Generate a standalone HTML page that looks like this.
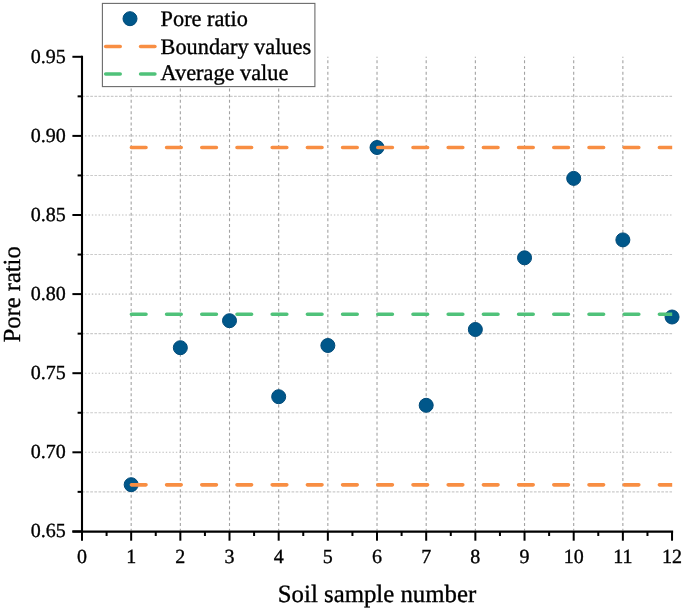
<!DOCTYPE html><html><head><meta charset="utf-8"><style>html,body{margin:0;padding:0;background:#fff;}svg{display:block;will-change:transform;}text{font-family:"Liberation Serif",serif;fill:#000;text-rendering:geometricPrecision;stroke:#000;stroke-width:0.35px;}</style></head><body>
<svg width="685" height="612" viewBox="0 0 685 612">
<rect width="685" height="612" fill="#fff"/>
<defs><clipPath id="pc"><rect x="82" y="40" width="590.2" height="500"/></clipPath></defs>
<line x1="131.17" y1="56.80" x2="131.17" y2="530.40" stroke="#a2a2a2" stroke-width="1.1" stroke-dasharray="3 2.643" stroke-dashoffset="2.093"/>
<line x1="180.34" y1="56.80" x2="180.34" y2="530.40" stroke="#a2a2a2" stroke-width="1.1" stroke-dasharray="3 2.643" stroke-dashoffset="2.093"/>
<line x1="229.51" y1="56.80" x2="229.51" y2="530.40" stroke="#a2a2a2" stroke-width="1.1" stroke-dasharray="3 2.643" stroke-dashoffset="2.093"/>
<line x1="278.68" y1="56.80" x2="278.68" y2="530.40" stroke="#a2a2a2" stroke-width="1.1" stroke-dasharray="3 2.643" stroke-dashoffset="2.093"/>
<line x1="327.85" y1="56.80" x2="327.85" y2="530.40" stroke="#a2a2a2" stroke-width="1.1" stroke-dasharray="3 2.643" stroke-dashoffset="2.093"/>
<line x1="377.02" y1="56.80" x2="377.02" y2="530.40" stroke="#a2a2a2" stroke-width="1.1" stroke-dasharray="3 2.643" stroke-dashoffset="2.093"/>
<line x1="426.19" y1="56.80" x2="426.19" y2="530.40" stroke="#a2a2a2" stroke-width="1.1" stroke-dasharray="3 2.643" stroke-dashoffset="2.093"/>
<line x1="475.36" y1="56.80" x2="475.36" y2="530.40" stroke="#a2a2a2" stroke-width="1.1" stroke-dasharray="3 2.643" stroke-dashoffset="2.093"/>
<line x1="524.53" y1="56.80" x2="524.53" y2="530.40" stroke="#a2a2a2" stroke-width="1.1" stroke-dasharray="3 2.643" stroke-dashoffset="2.093"/>
<line x1="573.70" y1="56.80" x2="573.70" y2="530.40" stroke="#a2a2a2" stroke-width="1.1" stroke-dasharray="3 2.643" stroke-dashoffset="2.093"/>
<line x1="622.87" y1="56.80" x2="622.87" y2="530.40" stroke="#a2a2a2" stroke-width="1.1" stroke-dasharray="3 2.643" stroke-dashoffset="2.093"/>
<line x1="83" y1="491.85" x2="672.04" y2="491.85" stroke="#cbcbcb" stroke-width="1.1" stroke-dasharray="2.7 1.408" stroke-dashoffset="0.958"/>
<line x1="84" y1="452.30" x2="672.04" y2="452.30" stroke="#bcbcbc" stroke-width="1.1" stroke-dasharray="1.4 1.962" stroke-dashoffset="2.262"/>
<line x1="83" y1="412.75" x2="672.04" y2="412.75" stroke="#cbcbcb" stroke-width="1.1" stroke-dasharray="2.7 1.408" stroke-dashoffset="0.958"/>
<line x1="84" y1="373.20" x2="672.04" y2="373.20" stroke="#bcbcbc" stroke-width="1.1" stroke-dasharray="1.4 1.962" stroke-dashoffset="2.262"/>
<line x1="83" y1="333.65" x2="672.04" y2="333.65" stroke="#cbcbcb" stroke-width="1.1" stroke-dasharray="2.7 1.408" stroke-dashoffset="0.958"/>
<line x1="84" y1="294.10" x2="672.04" y2="294.10" stroke="#bcbcbc" stroke-width="1.1" stroke-dasharray="1.4 1.962" stroke-dashoffset="2.262"/>
<line x1="83" y1="254.55" x2="672.04" y2="254.55" stroke="#cbcbcb" stroke-width="1.1" stroke-dasharray="2.7 1.408" stroke-dashoffset="0.958"/>
<line x1="84" y1="215.00" x2="672.04" y2="215.00" stroke="#bcbcbc" stroke-width="1.1" stroke-dasharray="1.4 1.962" stroke-dashoffset="2.262"/>
<line x1="83" y1="175.45" x2="672.04" y2="175.45" stroke="#cbcbcb" stroke-width="1.1" stroke-dasharray="2.7 1.408" stroke-dashoffset="0.958"/>
<line x1="84" y1="135.90" x2="672.04" y2="135.90" stroke="#bcbcbc" stroke-width="1.1" stroke-dasharray="1.4 1.962" stroke-dashoffset="2.262"/>
<line x1="83" y1="96.35" x2="672.04" y2="96.35" stroke="#cbcbcb" stroke-width="1.1" stroke-dasharray="2.7 1.408" stroke-dashoffset="0.958"/>
<circle cx="131.17" cy="484.70" r="7.0" fill="#00578a" stroke="#004a78" stroke-width="1"/>
<circle cx="180.34" cy="347.70" r="7.0" fill="#00578a" stroke="#004a78" stroke-width="1"/>
<circle cx="229.51" cy="320.70" r="7.0" fill="#00578a" stroke="#004a78" stroke-width="1"/>
<circle cx="278.68" cy="396.70" r="7.0" fill="#00578a" stroke="#004a78" stroke-width="1"/>
<circle cx="327.85" cy="345.50" r="7.0" fill="#00578a" stroke="#004a78" stroke-width="1"/>
<circle cx="377.02" cy="147.50" r="7.0" fill="#00578a" stroke="#004a78" stroke-width="1"/>
<circle cx="426.19" cy="405.30" r="7.0" fill="#00578a" stroke="#004a78" stroke-width="1"/>
<circle cx="475.36" cy="329.50" r="7.0" fill="#00578a" stroke="#004a78" stroke-width="1"/>
<circle cx="524.53" cy="257.80" r="7.0" fill="#00578a" stroke="#004a78" stroke-width="1"/>
<circle cx="573.70" cy="178.40" r="7.0" fill="#00578a" stroke="#004a78" stroke-width="1"/>
<circle cx="622.87" cy="239.90" r="7.0" fill="#00578a" stroke="#004a78" stroke-width="1"/>
<circle cx="672.04" cy="317.00" r="7.0" fill="#00578a" stroke="#004a78" stroke-width="1"/>
<line x1="131.4" y1="147.5" x2="700" y2="147.5" stroke="#f88e43" stroke-width="3.6" stroke-linecap="round" stroke-dasharray="14.6 20.6" clip-path="url(#pc)"/>
<line x1="131.4" y1="484.85" x2="700" y2="484.85" stroke="#f88e43" stroke-width="3.6" stroke-linecap="round" stroke-dasharray="14.6 20.6" clip-path="url(#pc)"/>
<line x1="131.4" y1="314.2" x2="700" y2="314.2" stroke="#50c27a" stroke-width="3.6" stroke-linecap="round" stroke-dasharray="14.6 20.6" clip-path="url(#pc)"/>
<line x1="82.00" y1="55.80" x2="82.00" y2="532.65" stroke="#000" stroke-width="2.1"/>
<line x1="72.4" y1="531.55" x2="673.14" y2="531.55" stroke="#000" stroke-width="2.3"/>
<line x1="72.4" y1="531.40" x2="82.00" y2="531.40" stroke="#000" stroke-width="2.0"/>
<text x="65.7" y="537.20" font-size="20" text-anchor="end">0.65</text>
<line x1="77.6" y1="491.85" x2="82.00" y2="491.85" stroke="#000" stroke-width="2.0"/>
<line x1="72.4" y1="452.30" x2="82.00" y2="452.30" stroke="#000" stroke-width="2.0"/>
<text x="65.7" y="458.10" font-size="20" text-anchor="end">0.70</text>
<line x1="77.6" y1="412.75" x2="82.00" y2="412.75" stroke="#000" stroke-width="2.0"/>
<line x1="72.4" y1="373.20" x2="82.00" y2="373.20" stroke="#000" stroke-width="2.0"/>
<text x="65.7" y="379.00" font-size="20" text-anchor="end">0.75</text>
<line x1="77.6" y1="333.65" x2="82.00" y2="333.65" stroke="#000" stroke-width="2.0"/>
<line x1="72.4" y1="294.10" x2="82.00" y2="294.10" stroke="#000" stroke-width="2.0"/>
<text x="65.7" y="299.90" font-size="20" text-anchor="end">0.80</text>
<line x1="77.6" y1="254.55" x2="82.00" y2="254.55" stroke="#000" stroke-width="2.0"/>
<line x1="72.4" y1="215.00" x2="82.00" y2="215.00" stroke="#000" stroke-width="2.0"/>
<text x="65.7" y="220.80" font-size="20" text-anchor="end">0.85</text>
<line x1="77.6" y1="175.45" x2="82.00" y2="175.45" stroke="#000" stroke-width="2.0"/>
<line x1="72.4" y1="135.90" x2="82.00" y2="135.90" stroke="#000" stroke-width="2.0"/>
<text x="65.7" y="141.70" font-size="20" text-anchor="end">0.90</text>
<line x1="77.6" y1="96.35" x2="82.00" y2="96.35" stroke="#000" stroke-width="2.0"/>
<line x1="72.4" y1="56.80" x2="82.00" y2="56.80" stroke="#000" stroke-width="2.0"/>
<text x="65.7" y="62.60" font-size="20" text-anchor="end">0.95</text>
<line x1="82.00" y1="531.40" x2="82.00" y2="540.7" stroke="#000" stroke-width="2.0"/>
<text x="82.00" y="563" font-size="20" text-anchor="middle">0</text>
<line x1="106.59" y1="531.40" x2="106.59" y2="536" stroke="#000" stroke-width="2.0"/>
<line x1="131.17" y1="531.40" x2="131.17" y2="540.7" stroke="#000" stroke-width="2.0"/>
<text x="131.17" y="563" font-size="20" text-anchor="middle">1</text>
<line x1="155.75" y1="531.40" x2="155.75" y2="536" stroke="#000" stroke-width="2.0"/>
<line x1="180.34" y1="531.40" x2="180.34" y2="540.7" stroke="#000" stroke-width="2.0"/>
<text x="180.34" y="563" font-size="20" text-anchor="middle">2</text>
<line x1="204.93" y1="531.40" x2="204.93" y2="536" stroke="#000" stroke-width="2.0"/>
<line x1="229.51" y1="531.40" x2="229.51" y2="540.7" stroke="#000" stroke-width="2.0"/>
<text x="229.51" y="563" font-size="20" text-anchor="middle">3</text>
<line x1="254.09" y1="531.40" x2="254.09" y2="536" stroke="#000" stroke-width="2.0"/>
<line x1="278.68" y1="531.40" x2="278.68" y2="540.7" stroke="#000" stroke-width="2.0"/>
<text x="278.68" y="563" font-size="20" text-anchor="middle">4</text>
<line x1="303.26" y1="531.40" x2="303.26" y2="536" stroke="#000" stroke-width="2.0"/>
<line x1="327.85" y1="531.40" x2="327.85" y2="540.7" stroke="#000" stroke-width="2.0"/>
<text x="327.85" y="563" font-size="20" text-anchor="middle">5</text>
<line x1="352.44" y1="531.40" x2="352.44" y2="536" stroke="#000" stroke-width="2.0"/>
<line x1="377.02" y1="531.40" x2="377.02" y2="540.7" stroke="#000" stroke-width="2.0"/>
<text x="377.02" y="563" font-size="20" text-anchor="middle">6</text>
<line x1="401.61" y1="531.40" x2="401.61" y2="536" stroke="#000" stroke-width="2.0"/>
<line x1="426.19" y1="531.40" x2="426.19" y2="540.7" stroke="#000" stroke-width="2.0"/>
<text x="426.19" y="563" font-size="20" text-anchor="middle">7</text>
<line x1="450.78" y1="531.40" x2="450.78" y2="536" stroke="#000" stroke-width="2.0"/>
<line x1="475.36" y1="531.40" x2="475.36" y2="540.7" stroke="#000" stroke-width="2.0"/>
<text x="475.36" y="563" font-size="20" text-anchor="middle">8</text>
<line x1="499.94" y1="531.40" x2="499.94" y2="536" stroke="#000" stroke-width="2.0"/>
<line x1="524.53" y1="531.40" x2="524.53" y2="540.7" stroke="#000" stroke-width="2.0"/>
<text x="524.53" y="563" font-size="20" text-anchor="middle">9</text>
<line x1="549.12" y1="531.40" x2="549.12" y2="536" stroke="#000" stroke-width="2.0"/>
<line x1="573.70" y1="531.40" x2="573.70" y2="540.7" stroke="#000" stroke-width="2.0"/>
<text x="573.70" y="563" font-size="20" text-anchor="middle">10</text>
<line x1="598.28" y1="531.40" x2="598.28" y2="536" stroke="#000" stroke-width="2.0"/>
<line x1="622.87" y1="531.40" x2="622.87" y2="540.7" stroke="#000" stroke-width="2.0"/>
<text x="622.87" y="563" font-size="20" text-anchor="middle">11</text>
<line x1="647.46" y1="531.40" x2="647.46" y2="536" stroke="#000" stroke-width="2.0"/>
<line x1="672.04" y1="531.40" x2="672.04" y2="540.7" stroke="#000" stroke-width="2.0"/>
<text x="672.04" y="563" font-size="20" text-anchor="middle">12</text>
<text x="377" y="601.8" font-size="24.8" text-anchor="middle">Soil sample number</text>
<text transform="translate(20 294.3) rotate(-90)" x="0" y="0" font-size="24.5" text-anchor="middle">Pore ratio</text>
<rect x="102.4" y="3.4" width="212.5" height="83.2" fill="#fff" stroke="#6a6a6a" stroke-width="1.1"/>
<circle cx="130" cy="18.7" r="7" fill="#00578a" stroke="#004a78" stroke-width="1"/>
<line x1="105.7" y1="46.5" x2="120.2" y2="46.5" stroke="#f88e43" stroke-width="3.6" stroke-linecap="round"/>
<line x1="140.6" y1="46.5" x2="154.9" y2="46.5" stroke="#f88e43" stroke-width="3.6" stroke-linecap="round"/>
<line x1="105.7" y1="74" x2="120.2" y2="74" stroke="#50c27a" stroke-width="3.6" stroke-linecap="round"/>
<line x1="140.6" y1="74" x2="154.9" y2="74" stroke="#50c27a" stroke-width="3.6" stroke-linecap="round"/>
<text x="160.6" y="26.3" font-size="22.3">Pore ratio</text>
<text x="160.6" y="53.8" font-size="22.3">Boundary values</text>
<text x="160.6" y="80.4" font-size="22.3">Average value</text>
</svg></body></html>
